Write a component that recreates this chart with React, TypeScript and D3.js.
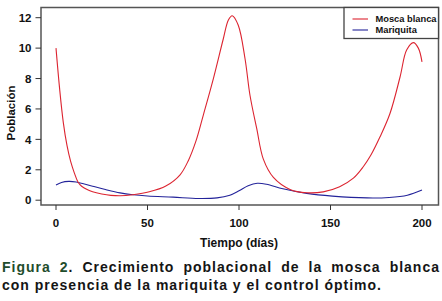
import React, { useLayoutEffect, useRef, useState } from "react";
import * as d3 from "d3";

const moscaDays = [0, 2, 4, 6, 8, 10, 12, 14, 17, 20, 25, 30, 35, 42, 51, 60, 67.8, 72.3, 76.5, 80.5, 86, 91.4, 94.2, 96.3, 99.6, 103.3, 106, 109.7, 113.3, 118.8, 127.9, 137, 146, 155, 162.5, 167.9, 172, 177, 182.5, 188, 191.6, 195.3, 198, 200];
const moscaValues = [10.0, 7.3, 5.1, 3.6, 2.55, 1.8, 1.2, 0.92, 0.7, 0.55, 0.41, 0.32, 0.29, 0.36, 0.55, 0.93, 1.67, 2.6, 3.9, 5.6, 8.0, 10.6, 11.85, 12.13, 11.5, 9.3, 6.9, 4.7, 2.7, 1.5, 0.71, 0.49, 0.55, 0.89, 1.45, 2.2, 2.95, 4.15, 5.7, 8.1, 9.87, 10.36, 10.0, 9.1];

const mariquitaDays = [0, 3, 7, 11, 15, 20, 27, 35, 42, 50, 64, 78, 88, 95, 100, 105, 110, 115, 124, 137, 151, 170, 182, 192, 200];
const mariquitaValues = [1.0, 1.17, 1.24, 1.2, 1.08, 0.92, 0.7, 0.48, 0.36, 0.28, 0.2, 0.11, 0.15, 0.33, 0.62, 0.95, 1.11, 1.05, 0.75, 0.45, 0.27, 0.15, 0.18, 0.33, 0.67];

const xTicks = [0, 50, 100, 150, 200];
const yTicks = [0, 2, 4, 6, 8, 10, 12];

const seriesNames = ["Mosca blanca", "Mariquita"];
const seriesColors = ["#dc2430", "#23239a"];

const xLabel = "Tiempo (días)";
const yLabel = "Población";
const captionBold = "Figura 2";
const captionLine1 = ". Crecimiento poblacional de la mosca blanca";
const captionLine2 = "con presencia de la mariquita y el control óptimo.";

export default function App() {
  const W = 442, H = 301;
  const frame = { left: 41, top: 7.5, right: 438.5, bottom: 205 };
  const x = d3.scaleLinear().domain([0, 200]).range([56, 422]);
  const y = d3.scaleLinear().domain([0, 12]).range([200.2, 17.7]);

  const line = d3
    .line<[number, number]>()
    .x((d) => x(d[0]))
    .y((d) => y(d[1]))
    .curve(d3.curveCatmullRom.alpha(0.5));

  const mosca = moscaDays.map((d, i) => [d, moscaValues[i]] as [number, number]);
  const mariq = mariquitaDays.map((d, i) => [d, mariquitaValues[i]] as [number, number]);

  const font = "'Liberation Sans', Arial, sans-serif";
  const axisColor = "#333";

  const m1 = useRef<SVGTextElement>(null);
  const m2 = useRef<SVGTextElement>(null);
  const [sp, setSp] = useState({ ls: 1, ws: 3 });

  useLayoutEffect(() => {
    if (!m1.current || !m2.current) return;
    const w2 = m2.current.getComputedTextLength();
    const n2 = captionLine2.length;
    const ls = (380 - w2) / n2;
    const w1 = m1.current.getComputedTextLength();
    const full1 = captionBold + captionLine1;
    const n1 = full1.length;
    const spaces = full1.split(" ").length - 1;
    const ws = (438 - (w1 + ls * n1)) / spaces;
    setSp({ ls, ws });
  }, []);

  const capSize = 14;

  return (
    <svg
      width={W}
      height={H}
      style={{ position: "absolute", left: 0, top: 0, background: "#fff" }}
      fontFamily={font}
    >
      <rect x={0} y={0} width={W} height={H} fill="#fff" />
      {/* hidden measurement */}
      <g visibility="hidden">
        <text ref={m1} x={0} y={-50} fontSize={capSize} fontWeight="bold">
          {captionBold + captionLine1}
        </text>
        <text ref={m2} x={0} y={-50} fontSize={capSize} fontWeight="bold">
          {captionLine2}
        </text>
      </g>
      {/* frame */}
      <rect
        x={frame.left}
        y={frame.top}
        width={frame.right - frame.left}
        height={frame.bottom - frame.top}
        fill="none"
        stroke="#555"
        strokeWidth={1.5}
      />
      {/* y ticks */}
      {yTicks.map((t) => (
        <g key={"y" + t}>
          <line x1={35.5} x2={frame.left} y1={y(t)} y2={y(t)} stroke={axisColor} strokeWidth={1} />
          <text x={31.5} y={y(t)} dy="0.36em" textAnchor="end" fontSize={11.5} fontWeight="bold" fill="#111">
            {t}
          </text>
        </g>
      ))}
      {/* x ticks */}
      {xTicks.map((t) => (
        <g key={"x" + t}>
          <line x1={x(t)} x2={x(t)} y1={frame.bottom} y2={frame.bottom + 5} stroke={axisColor} strokeWidth={1} />
          <text x={x(t)} y={227} textAnchor="middle" fontSize={11.5} fontWeight="bold" fill="#111">
            {t}
          </text>
        </g>
      ))}
      <text x={239} y={246.5} textAnchor="middle" fontSize={12} fontWeight="bold" fill="#111">
        {xLabel}
      </text>
      <text
        transform={`translate(15, 113) rotate(-90)`}
        textAnchor="middle"
        fontSize={11.5}
        fontWeight="bold"
        fill="#111"
      >
        {yLabel}
      </text>

      {/* series */}
      <path d={line(mariq) || ""} fill="none" stroke={seriesColors[1]} strokeWidth={1.1} />
      <path d={line(mosca) || ""} fill="none" stroke={seriesColors[0]} strokeWidth={1.1} />

      {/* legend */}
      <rect x={344} y={frame.top} width={frame.right - 344} height={31} fill="#fff" stroke="#444" strokeWidth={1.3} />
      {seriesNames.map((n, i) => (
        <g key={n}>
          <line x1={352.5} x2={368} y1={19 + i * 11} y2={19 + i * 11} stroke={seriesColors[i]} strokeWidth={1.1} />
          <text x={375.5} y={19 + i * 11} dy="0.35em" fontSize={9.3} fontWeight="bold" fill="#111">
            {n}
          </text>
        </g>
      ))}

      {/* caption */}
      <text
        x={2}
        y={272}
        fontSize={capSize}
        fontWeight="bold"
        fill="#151515"
        letterSpacing={sp.ls}
        wordSpacing={sp.ws}
      >
        <tspan fill="#1f4d2c">{captionBold}</tspan>
        <tspan>{captionLine1}</tspan>
      </text>
      <text x={2} y={290} fontSize={capSize} fontWeight="bold" fill="#151515" letterSpacing={sp.ls}>
        {captionLine2}
      </text>
    </svg>
  );
}
